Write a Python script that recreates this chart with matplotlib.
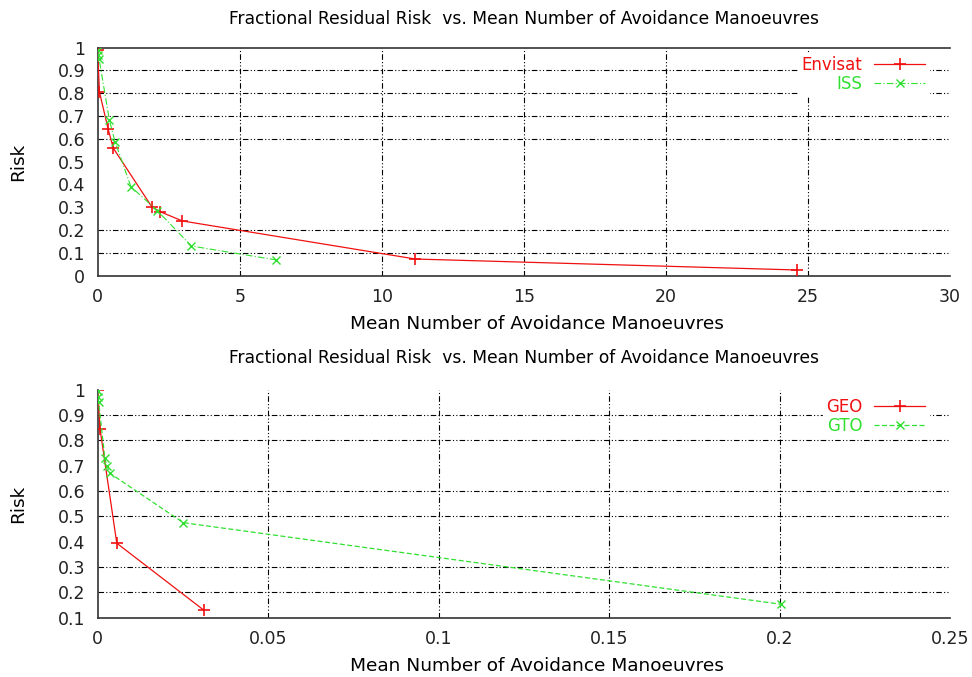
import matplotlib
matplotlib.use("Agg")
import matplotlib.pyplot as plt

plt.rcParams["font.family"] = ["DejaVu Sans"]

TITLE = "Fractional Residual Risk  vs. Mean Number of Avoidance Manoeuvres"
XLABEL = "Mean Number of Avoidance Manoeuvres"

# top panel
envisat_x = [0.0, 0.06, 0.37, 0.55, 1.9, 2.19, 2.98, 11.18, 24.6]
envisat_y = [0.99, 0.807, 0.642, 0.559, 0.303, 0.281, 0.24, 0.073, 0.025]
iss_x = [0.0, 0.02, 0.05, 0.41, 0.61, 1.17, 2.1, 3.3, 6.29]
iss_y = [0.99, 0.97, 0.95, 0.683, 0.588, 0.39, 0.285, 0.13, 0.069]
top_xticks = [0, 5, 10, 15, 20, 25, 30]
top_yticks = [0, 0.1, 0.2, 0.3, 0.4, 0.5, 0.6, 0.7, 0.8, 0.9, 1]
top_ygrid = [0.1, 0.2, 0.6, 0.7, 0.8, 0.9]

# bottom panel
geo_x = [0.0, 0.0007, 0.0056, 0.0311]
geo_y = [1.0, 0.844, 0.394, 0.13]
gto_x = [0.0, 0.0001, 0.0003, 0.0021, 0.0027, 0.0036, 0.0251, 0.2004]
gto_y = [0.995, 0.97, 0.95, 0.729, 0.70, 0.67, 0.475, 0.153]
bot_xticks = [0, 0.05, 0.1, 0.15, 0.2, 0.25]
bot_yticks = [0.1, 0.2, 0.3, 0.4, 0.5, 0.6, 0.7, 0.8, 0.9, 1]
bot_ygrid = [0.2, 0.3, 0.5, 0.6, 0.8, 0.9]

RED = "#f01010"
GREEN = "#30e030"
GRID_DASH = (0, (5, 2, 1, 2, 1, 2))
TICK_FS = 12.5
LABEL_FS = 13.3


def style_axes(ax, xticks, yticks, ygrid, xlim, ylim, show_top):
    ax.set_xlim(*xlim)
    ax.set_ylim(*ylim)
    ax.set_xticks(xticks)
    ax.set_xticklabels([f"{t:g}" for t in xticks])
    ax.set_yticks(yticks)
    ax.set_yticklabels([f"{t:g}" for t in yticks])
    ax.tick_params(length=0, labelsize=TICK_FS, colors="#222222", pad=9)
    for x in xticks[1:-1]:
        ax.axvline(x, color="black", lw=0.8, ls=GRID_DASH, zorder=1)
    for y in ygrid:
        ax.axhline(y, color="black", lw=0.8, ls=GRID_DASH, zorder=1)
    ax.spines["right"].set_visible(False)
    ax.spines["top"].set_visible(show_top)
    for s in ("left", "bottom", "top"):
        ax.spines[s].set_color("#333333")
        ax.spines[s].set_linewidth(1.2)
    ax.set_xlabel(XLABEL, fontsize=LABEL_FS, labelpad=6)
    ax.xaxis.label.set_x(0.515)
    ax.set_ylabel("Risk", fontsize=LABEL_FS, labelpad=22)


def add_legend(ax, top):
    leg = ax.legend(loc="upper right", markerfirst=False, labelcolor="linecolor",
                    frameon=True, fancybox=False, fontsize=12, handlelength=3.1,
                    handletextpad=0.7, borderaxespad=0, borderpad=0.2,
                    labelspacing=0.05, bbox_to_anchor=(0.975, top))
    leg.get_frame().set_edgecolor("white")
    leg.get_frame().set_alpha(1)
    return leg


fig = plt.figure(figsize=(9.72, 6.77), dpi=100)

ax1 = fig.add_axes([0.1005, 0.5928, 0.877, 0.3368])
ax1.plot(envisat_x, envisat_y, color=RED, lw=0.9, marker="+", ms=8, mew=1.2,
         label="Envisat", zorder=3)
ax1.plot(iss_x, iss_y, color=GREEN, lw=0.8, ls=(0, (6, 2, 1, 2)), marker="x", ms=6,
         mew=1.0, label="ISS", zorder=3)
style_axes(ax1, top_xticks, top_yticks, top_ygrid, (0, 30), (0, 1), True)
ax1.set_title(TITLE, fontsize=12.3, pad=17)
add_legend(ax1, 0.978)

ax2 = fig.add_axes([0.1005, 0.0876, 0.877, 0.3368])
ax2.plot(geo_x, geo_y, color=RED, lw=0.9, marker="+", ms=8, mew=1.2,
         label="GEO", zorder=3)
ax2.plot(gto_x, gto_y, color=GREEN, lw=0.9, ls=(0, (4, 2)), marker="x", ms=6,
         mew=1.0, label="GTO", zorder=3)
style_axes(ax2, bot_xticks, bot_yticks, bot_ygrid, (0, 0.25), (0.1, 1), False)
ax2.set_title(TITLE, fontsize=12.3, pad=19)
add_legend(ax2, 0.978)

fig.savefig("out.png", dpi=100)
